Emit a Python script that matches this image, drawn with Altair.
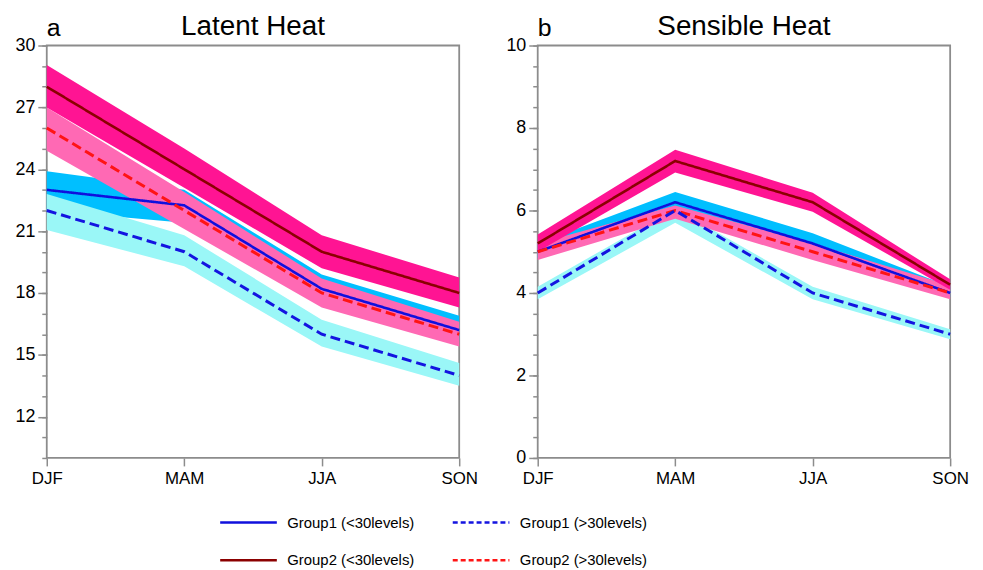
import altair as alt
import pandas as pd

seasons = ["DJF", "MAM", "JJA", "SON"]
series_names = ["Group1 (<30levels)", "Group1 (>30levels)",
                "Group2 (<30levels)", "Group2 (>30levels)"]
line_colors = ["#1010dd", "#1414e0", "#8b0000", "#ff1414"]
band_colors = ["#00bfff", "#9af7f7", "#ff1493", "#ff69b4"]
legend_dashes = [[1, 0], [5, 3], [1, 0], [5, 3]]
# legend is filled column by column: left column Group1/Group2 (<30), right column (>30)
legend_order = [0, 2, 1, 3]

# ---- Latent heat (panel a): mean, lower, upper per season
lh_g1_lt = [23.0, 22.25, 18.2, 16.2]
lh_g1_lt_lo = [22.0, 21.4, 17.6, 15.7]
lh_g1_lt_hi = [23.9, 23.0, 18.9, 16.9]
lh_g1_gt = [22.0, 20.0, 16.0, 14.0]
lh_g1_gt_lo = [21.05, 19.3, 15.4, 13.5]
lh_g1_gt_hi = [22.8, 20.8, 16.7, 14.6]
lh_g2_lt = [28.0, 24.0, 20.0, 18.0]
lh_g2_lt_lo = [27.0, 23.1, 19.2, 17.3]
lh_g2_lt_hi = [29.05, 25.0, 20.8, 18.75]
lh_g2_gt = [26.0, 22.0, 18.0, 16.0]
lh_g2_gt_lo = [24.9, 21.1, 17.3, 15.4]
lh_g2_gt_hi = [27.0, 22.9, 18.7, 16.6]

# ---- Sensible heat (panel b)
sh_g1_lt = [5.0, 6.2, 5.2, 4.0]
sh_g1_lt_lo = [4.85, 5.95, 4.95, 3.9]
sh_g1_lt_hi = [5.2, 6.45, 5.45, 4.15]
sh_g1_gt = [4.0, 6.0, 4.0, 3.0]
sh_g1_gt_lo = [3.85, 5.7, 3.85, 2.88]
sh_g1_gt_hi = [4.15, 6.05, 4.15, 3.12]
sh_g2_lt = [5.2, 7.2, 6.2, 4.2]
sh_g2_lt_lo = [5.0, 6.92, 5.97, 4.08]
sh_g2_lt_hi = [5.42, 7.47, 6.43, 4.33]
sh_g2_gt = [5.0, 6.0, 5.0, 4.0]
sh_g2_gt_lo = [4.8, 5.8, 4.8, 3.85]
sh_g2_gt_hi = [5.2, 6.12, 5.2, 4.18]

lh_major = [12, 15, 18, 21, 24, 27, 30]
lh_minor = list(range(10, 31))
sh_major = [0, 2, 4, 6, 8, 10]
sh_minor = [i * 0.5 for i in range(0, 21)]

FONT = "Liberation Sans"
W, H = 415, 415


def build_df(groups):
    rows = []
    for name, (m, lo, hi) in zip(series_names, groups):
        for k, s in enumerate(seasons):
            rows.append({"season": s, "series": name, "mean": m[k], "lo": lo[k], "hi": hi[k]})
    return pd.DataFrame(rows)


df_a = build_df([(lh_g1_lt, lh_g1_lt_lo, lh_g1_lt_hi), (lh_g1_gt, lh_g1_gt_lo, lh_g1_gt_hi),
                 (lh_g2_lt, lh_g2_lt_lo, lh_g2_lt_hi), (lh_g2_gt, lh_g2_gt_lo, lh_g2_gt_hi)])
df_b = build_df([(sh_g1_lt, sh_g1_lt_lo, sh_g1_lt_hi), (sh_g1_gt, sh_g1_gt_lo, sh_g1_gt_hi),
                 (sh_g2_lt, sh_g2_lt_lo, sh_g2_lt_hi), (sh_g2_gt, sh_g2_gt_lo, sh_g2_gt_hi)])

legend = alt.Legend(
    title=None, orient="none", legendX=173, legendY=450, columns=2,
    columnPadding=33, rowPadding=-21, symbolType="stroke", symbolSize=3249,
    symbolStrokeWidth=2.5, labelFont=FONT, labelFontSize=15, labelColor="black",
    labelOffset=9,
)
color_scale = alt.Scale(domain=[series_names[i] for i in legend_order],
                        range=[line_colors[i] for i in legend_order])
dash_scale = alt.Scale(domain=[series_names[i] for i in legend_order],
                       range=[legend_dashes[i] for i in legend_order])


def panel(df, title, letter, domain, major, minor, with_legend_layer):
    x = alt.X("season:N", sort=seasons, scale=alt.Scale(type="point", padding=0),
              axis=alt.Axis(title=None, labelAngle=0, tickSize=8, labelFontSize=17,
                            labelPadding=5, domain=False))
    ysc = alt.Scale(domain=domain, nice=False, zero=False)
    minor_axis = alt.Axis(orient="left", values=minor, tickSize=5, labels=False,
                          domain=False, title=None, grid=False)
    major_axis = alt.Axis(orient="left", values=major, tickSize=9, labelFontSize=18,
                          labelPadding=3, domain=False, title=None, grid=False)
    base = alt.Chart(df)
    layers = []
    for n, i in enumerate([0, 1, 3, 2]):
        layers.append(
            base.transform_filter(alt.datum.series == series_names[i])
            .mark_area(color=band_colors[i], opacity=1)
            .encode(x=x, y=alt.Y("lo:Q", scale=ysc, axis=minor_axis if n == 0 else None),
                    y2="hi:Q")
        )
    for n, i in enumerate([2, 0, 3, 1]):
        dashed = i in (1, 3)
        layers.append(
            base.transform_filter(alt.datum.series == series_names[i])
            .mark_line(strokeWidth=3 if dashed else 2.6,
                       strokeDash=[10, 5] if dashed else [1, 0])
            .encode(x=x, y=alt.Y("mean:Q", scale=ysc, axis=major_axis if n == 0 else None),
                    color=alt.Color("series:N", scale=color_scale, legend=legend))
        )
    if with_legend_layer:
        # carries the legend's dash patterns only; draws nothing
        layers.append(
            base.transform_filter("false").mark_line(strokeWidth=2.5)
            .encode(x=x, y=alt.Y("mean:Q", scale=ysc, axis=None),
                    color=alt.Color("series:N", scale=color_scale, legend=legend),
                    strokeDash=alt.StrokeDash("series:N", scale=dash_scale, legend=legend))
        )
    lab = alt.Chart(pd.DataFrame({"t": [letter]})).mark_text(
        align="left", baseline="alphabetic", fontSize=25, font=FONT, color="black"
    ).encode(text="t:N", x=alt.value(0), y=alt.value(-10))
    ttl = alt.Chart(pd.DataFrame({"t": [title]})).mark_text(
        align="center", baseline="alphabetic", fontSize=28, font=FONT, color="black"
    ).encode(text="t:N", x=alt.value(W / 2), y=alt.value(-11))
    layers += [lab, ttl]
    return alt.layer(*layers).resolve_axis(y="independent").properties(width=W, height=H)


pa = panel(df_a, "Latent Heat", "a", [10, 30], lh_major, lh_minor, True)
pb = panel(df_b, "Sensible Heat", "b", [0, 10], sh_major, sh_minor, False)

chart = alt.hconcat(pa, pb, spacing=79, bounds="flush").properties(
    padding={"left": 6, "top": 2, "right": 5, "bottom": 0}, background="white"
).configure_view(stroke="#8c8c8c", strokeWidth=1.8).configure_axis(
    tickColor="#8c8c8c", tickWidth=1.5, labelFont=FONT, labelColor="black", grid=False
)

chart.save("out.html", embed_options={"renderer": "svg", "actions": False})
